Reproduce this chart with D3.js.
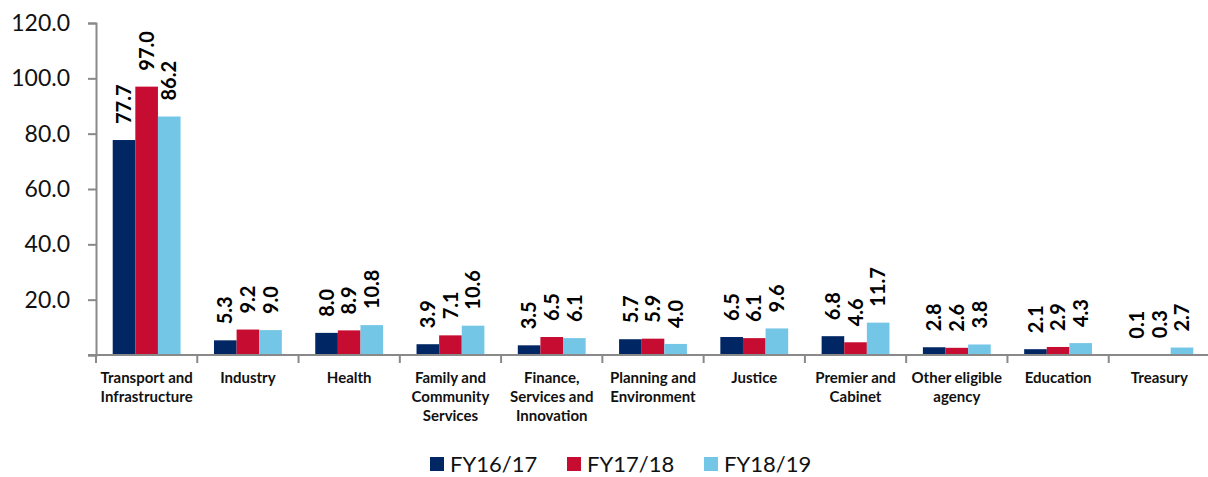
<!DOCTYPE html>
<html>
<head>
<meta charset="utf-8">
<script src="https://cdn.jsdelivr.net/npm/d3@7"></script>
<style>
  body { margin: 0; background: #fff; }
  svg { display: block; font-family: Lato, "Open Sans", sans-serif; }
</style>
</head>
<body>
<div id="chart"></div>
<script>
var categories = [
    "Transport and|Infrastructure", "Industry", "Health", "Family and|Community|Services",
    "Finance,|Services and|Innovation", "Planning and|Environment", "Justice",
    "Premier and|Cabinet", "Other eligible|agency", "Education", "Treasury"
];
var seriesNames = ["FY16/17", "FY17/18", "FY18/19"];
var fy1617 = [77.7, 5.3, 8.0, 3.9, 3.5, 5.7, 6.5, 6.8, 2.8, 2.1, 0.1];
var fy1718 = [97.0, 9.2, 8.9, 7.1, 6.5, 5.9, 6.1, 4.6, 2.6, 2.9, 0.3];
var fy1819 = [86.2, 9.0, 10.8, 10.6, 6.1, 4.0, 9.6, 11.7, 3.8, 4.3, 2.7];
var yTicks = [0, 20, 40, 60, 80, 100, 120];
var colors = ["#002664", "#c60c30", "#74c6e7"];

render();

function render() {

    var w = 1208, h = 477;
    var margin = {top: 23, right: 0, bottom: 122, left: 96};
    var width = w - margin.left - margin.right,
        height = h - margin.top - margin.bottom;

    var series = [fy1617, fy1718, fy1819];
    var rows = categories.map(function (c, i) {
        return {cat: c, values: series.map(function (s, j) { return {key: j, value: s[i]}; })};
    });

    var svg = d3.select("#chart").append("svg")
        .attr("width", w)
        .attr("height", h);

    var g = svg.append("g")
        .attr("transform", "translate(" + margin.left + "," + margin.top + ")");

    var x0 = d3.scaleBand()
        .domain(categories)
        .range([0, width + 2]);

    var x1 = d3.scaleBand()
        .domain([0, 1, 2])
        .range([x0.bandwidth() * 0.165, x0.bandwidth() * 0.835]);

    var y = d3.scaleLinear()
        .domain([0, 120])
        .range([height, 0]);

    // y axis
    var yAxis = g.append("g")
        .call(d3.axisLeft(y).tickValues(yTicks).tickSize(8).tickPadding(18)
            .tickFormat(function (d) { return d === 0 ? "" : d3.format(".1f")(d); }));
    yAxis.select(".domain").attr("stroke", "#898989").attr("stroke-width", 2);
    yAxis.selectAll(".tick line").attr("stroke", "#898989").attr("stroke-width", 2);
    yAxis.selectAll(".tick text")
        .attr("fill", "#111")
        .style("font-size", "23px")
        .style("font-family", "Lato, sans-serif");

    // bars
    var group = g.selectAll(".grp")
        .data(rows)
        .enter().append("g")
        .attr("class", "grp")
        .attr("transform", function (d) { return "translate(" + x0(d.cat) + ",0)"; });

    group.selectAll("rect")
        .data(function (d) { return d.values; })
        .enter().append("rect")
        .attr("x", function (d) { return x1(d.key); })
        .attr("y", function (d) { return y(d.value); })
        .attr("width", x1.bandwidth())
        .attr("height", function (d) { return height - y(d.value); })
        .attr("fill", function (d) { return colors[d.key]; });

    group.selectAll(".lbl")
        .data(function (d) { return d.values; })
        .enter().append("text")
        .attr("class", "lbl")
        .attr("transform", function (d) {
            return "translate(" + (x1(d.key) + x1.bandwidth() / 2) + "," + (y(d.value) - 16) + ") rotate(-90)";
        })
        .attr("dy", "0.36em")
        .attr("fill", "#000")
        .style("font-size", "20px")
        .style("font-weight", "bold")
        .text(function (d) { return d3.format(".1f")(d.value); });

    // x axis
    var xAxis = g.append("g")
        .attr("transform", "translate(0," + height + ")");
    xAxis.append("line")
        .attr("x1", -8).attr("x2", width + 2)
        .attr("stroke", "#898989").attr("stroke-width", 2);
    xAxis.selectAll(".xt")
        .data(categories)
        .enter().append("line")
        .attr("class", "xt")
        .attr("x1", function (d) { return x0(d); })
        .attr("x2", function (d) { return x0(d); })
        .attr("y1", 0).attr("y2", 8)
        .attr("stroke", "#898989").attr("stroke-width", 2);

    var catLabel = xAxis.selectAll(".cl")
        .data(categories)
        .enter().append("text")
        .attr("class", "cl")
        .attr("text-anchor", "middle")
        .attr("fill", "#111")
        .style("font-size", "15px")
        .style("font-weight", "bold");

    catLabel.selectAll("tspan")
        .data(function (d) {
            var c = x0(d) + x0.bandwidth() / 2;
            return d.split("|").map(function (t) { return {t: t, x: c}; });
        })
        .enter().append("tspan")
        .attr("x", function (d) { return d.x; })
        .attr("y", function (d, i) { return 28 + i * 19; })
        .text(function (d) { return d.t; });

    // legend
    var legendX = [430, 567, 704];
    var legend = svg.selectAll(".leg")
        .data(seriesNames)
        .enter().append("g")
        .attr("class", "leg")
        .attr("transform", function (d, i) { return "translate(" + legendX[i] + ",457)"; });
    legend.append("rect")
        .attr("width", 14).attr("height", 14)
        .attr("fill", function (d, i) { return colors[i]; });
    legend.append("text")
        .attr("x", 20).attr("y", 15)
        .attr("fill", "#111")
        .style("font-size", "22px")
        .text(function (d) { return d; });
}
</script>
</body>
</html>
